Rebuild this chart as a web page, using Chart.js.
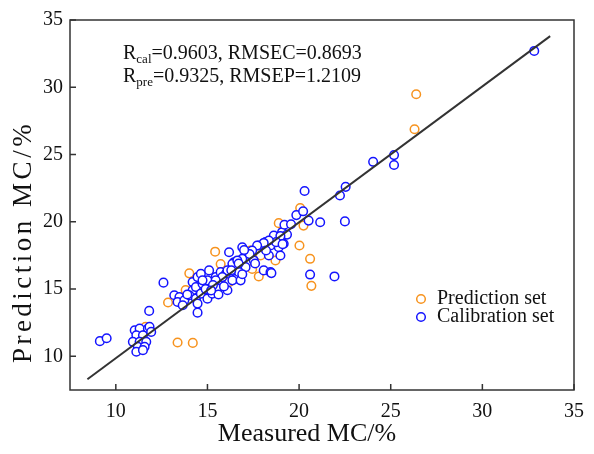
<!DOCTYPE html>
<html>
<head>
<meta charset="utf-8">
<script src="https://cdn.jsdelivr.net/npm/chart.js@4.4.1/dist/chart.umd.min.js"></script>
<style>
  html, body { margin: 0; padding: 0; background: #fff; }
</style>
</head>
<body>
<canvas id="mcChart" width="594" height="454"></canvas>
<script>
// calibration set (blue)
const calX = [9.13, 9.50, 11.03, 11.30, 11.75, 11.84, 11.12, 11.48, 10.93, 11.30, 11.66, 11.20, 11.57, 11.12, 11.48, 11.93, 11.82, 12.60,
              13.19, 13.47, 13.37, 13.74, 13.65, 14.19, 14.46, 14.64, 15.09, 14.19, 14.37, 14.73, 15.00, 14.01, 14.37, 14.64, 14.46, 14.46, 15.00, 15.27, 15.54, 15.45, 15.72, 16.00, 16.18, 16.45, 16.09, 16.54,
              16.90, 17.80, 18.17, 18.62, 19.07, 18.44, 18.89, 19.16, 18.35, 18.98, 17.53, 16.90, 16.36, 16.63, 17.08, 18.07, 18.44, 16.72, 16.09, 15.81, 16.36, 16.81, 15.45, 14.73,
              19.20, 19.56, 19.34, 18.98, 18.75, 18.35, 18.07, 19.10, 17.71, 18.20, 17.44, 18.49,
              20.30, 22.23, 22.54, 19.85, 20.22, 20.52, 21.15, 22.50, 20.60, 21.93,
              24.04, 25.18, 25.18, 32.83,
              15.30, 15.90, 16.30, 16.70, 17.30, 17.60, 15.60, 16.90, 13.90, 14.90, 15.20, 17.00];
const calY = [11.13, 11.35, 11.94, 12.07, 12.07, 12.19, 11.57, 11.57, 11.08, 11.08, 11.08, 10.71, 10.71, 10.34, 10.46, 11.82, 13.38, 15.48,
              14.54, 14.41, 14.04, 14.17, 13.80, 15.52, 15.89, 16.14, 16.39, 14.91, 15.15, 15.40, 15.65, 14.54, 14.29, 14.66, 13.92, 13.25, 14.29, 14.66, 15.04, 15.89, 16.26, 16.14, 17.74, 17.00, 14.91, 15.77,
              18.11, 18.24, 18.49, 18.98, 19.23, 18.24, 18.11, 18.37, 17.50, 17.50, 17.13, 17.25, 16.88, 17.13, 16.63, 16.39, 16.26, 16.26, 16.39, 15.89, 15.65, 15.65, 15.65, 15.65,
              19.78, 19.82, 19.05, 18.95, 18.49, 18.61, 18.43, 18.34, 18.24, 17.87, 17.87, 16.19,
              22.29, 21.96, 22.60, 20.50, 20.78, 20.09, 19.97, 20.03, 16.08, 15.94,
              24.46, 24.96, 24.22, 32.70,
              15.30, 15.20, 16.40, 16.90, 17.60, 16.90, 14.60, 16.10, 14.60, 15.00, 14.90, 17.90];

// prediction set (orange)
const preX = [11.62, 13.37, 14.20, 12.85, 14.01, 15.42, 15.72, 16.18, 13.81, 17.35, 18.71, 17.90, 17.44, 17.80, 18.89, 20.06, 20.24, 20.02, 20.60, 20.67, 26.39, 26.30];
const preY = [12.19, 11.03, 11.00, 14.00, 16.17, 17.78, 16.86, 15.52, 14.93, 17.87, 17.13, 17.50, 16.50, 15.94, 19.90, 21.02, 19.72, 18.24, 17.25, 15.24, 29.48, 26.88];

// regression line end points
const fitX = [8.45, 33.70];
const fitY = [8.30, 33.80];

const tickLabels = [10, 15, 20, 25, 30, 35];   // only these get a number, the rest are minor ticks
const seriesNames = ['Prediction set', 'Calibration set'];
const statLines = [['R', 'cal', '=0.9603, RMSEC=0.8693'], ['R', 'pre', '=0.9325, RMSEP=1.2109']];
const xTitle = 'Measured MC/%';
const yTitle = 'Prediction MC/%';

const ORANGE = '#f7931e';
const BLUE = '#1414ff';
const FRAME = '#333333';
const SERIF = "'Liberation Serif', 'Times New Roman', serif";

function toPoints(xs, ys) {
    return xs.map((x, i) => ({ x: x, y: ys[i] }));
}

// frame on all four sides + ticks pointing inward (Origin style)
const framePlugin = {
    id: 'frame',
    afterDraw(chart) {
        const ctx = chart.ctx;
        const a = chart.chartArea;
        const xs = chart.scales.x;
        const ys = chart.scales.y;
        ctx.save();
        ctx.strokeStyle = FRAME;
        ctx.lineWidth = 1.5;
        ctx.strokeRect(a.left, a.top, a.right - a.left, a.bottom - a.top);
        ctx.beginPath();
        xs.ticks.forEach(t => {
            const px = xs.getPixelForValue(t.value);
            const len = tickLabels.includes(t.value) ? 6 : 4;
            ctx.moveTo(px, a.bottom);
            ctx.lineTo(px, a.bottom - len);
        });
        ys.ticks.forEach(t => {
            const py = ys.getPixelForValue(t.value);
            const len = tickLabels.includes(t.value) ? 6 : 4;
            ctx.moveTo(a.left, py);
            ctx.lineTo(a.left + len, py);
        });
        ctx.stroke();
        ctx.restore();
    }
};

// axis titles, statistics text and the little legend inside the plot
const notePlugin = {
    id: 'notes',
    afterDraw(chart) {
        const ctx = chart.ctx;
        const a = chart.chartArea;
        ctx.save();
        ctx.fillStyle = '#111';

        // axis titles (the y one sits a bit low and is spread out in the original)
        ctx.textAlign = 'center';
        ctx.textBaseline = 'middle';
        ctx.font = '26px ' + SERIF;
        ctx.fillText(xTitle, 307, 434);
        ctx.save();
        ctx.translate(24, 242);
        ctx.rotate(-Math.PI / 2);
        ctx.font = '27px ' + SERIF;
        ctx.letterSpacing = '3.5px';
        ctx.fillText(yTitle, 0, 0);
        ctx.restore();

        ctx.textAlign = 'left';
        ctx.textBaseline = 'alphabetic';
        let baseY = a.top + 39;
        statLines.forEach(line => {
            let x = a.left + 53;
            ctx.font = '20px ' + SERIF;
            ctx.fillText(line[0], x, baseY);
            x += ctx.measureText(line[0]).width;
            ctx.font = '13px ' + SERIF;
            ctx.fillText(line[1], x, baseY + 4);
            x += ctx.measureText(line[1]).width;
            ctx.font = '20px ' + SERIF;
            ctx.fillText(line[2], x, baseY);
            baseY += 23;
        });

        // legend
        const colors = [ORANGE, BLUE];
        const lx = 421;
        let ly = 299;
        ctx.textBaseline = 'middle';
        ctx.font = '20px ' + SERIF;
        seriesNames.forEach((name, i) => {
            ctx.beginPath();
            ctx.arc(lx, ly, 4.3, 0, Math.PI * 2);
            ctx.fillStyle = '#fff';
            ctx.fill();
            ctx.lineWidth = 1.5;
            ctx.strokeStyle = colors[i];
            ctx.stroke();
            ctx.fillStyle = '#111';
            ctx.fillText(name, lx + 16, ly);
            ly += 18;
        });
        ctx.restore();
    }
};

const ctx = document.getElementById('mcChart').getContext('2d');
new Chart(ctx, {
    type: 'scatter',
    data: {
        datasets: [
            {
                label: 'fit',
                data: toPoints(fitX, fitY),
                showLine: true,
                borderColor: FRAME,
                borderWidth: 2,
                pointRadius: 0,
                order: 0
            },
            {
                label: seriesNames[1],
                data: toPoints(calX, calY),
                pointRadius: 4.3,
                pointBorderWidth: 1.5,
                pointBorderColor: BLUE,
                pointBackgroundColor: '#fff',
                order: 1
            },
            {
                label: seriesNames[0],
                data: toPoints(preX, preY),
                pointRadius: 4.3,
                pointBorderWidth: 1.5,
                pointBorderColor: ORANGE,
                pointBackgroundColor: '#fff',
                order: 2
            }
        ]
    },
    options: {
        responsive: false,
        animation: false,
        layout: { padding: { top: 20, right: 16, left: 0, bottom: 0 } },
        plugins: {
            legend: { display: false },
            tooltip: { enabled: false }
        },
        scales: {
            x: {
                type: 'linear',
                min: 7.5,
                max: 35,
                afterFit: s => { s.height = 64; },
                grid: { display: false, drawTicks: false },
                border: { display: false },
                ticks: {
                    stepSize: 2.5,
                    autoSkip: false,
                    maxRotation: 0,
                    padding: 10,
                    color: '#111',
                    font: { family: SERIF, size: 20 },
                    callback: v => tickLabels.includes(v) ? v : null
                }
            },
            y: {
                type: 'linear',
                min: 7.5,
                max: 35,
                afterFit: s => { s.width = 70; },
                grid: { display: false, drawTicks: false },
                border: { display: false },
                ticks: {
                    stepSize: 2.5,
                    autoSkip: false,
                    padding: 7,
                    color: '#111',
                    font: { family: SERIF, size: 20 },
                    callback: v => tickLabels.includes(v) ? v : null
                }
            }
        }
    },
    plugins: [framePlugin, notePlugin]
});
</script>
</body>
</html>
